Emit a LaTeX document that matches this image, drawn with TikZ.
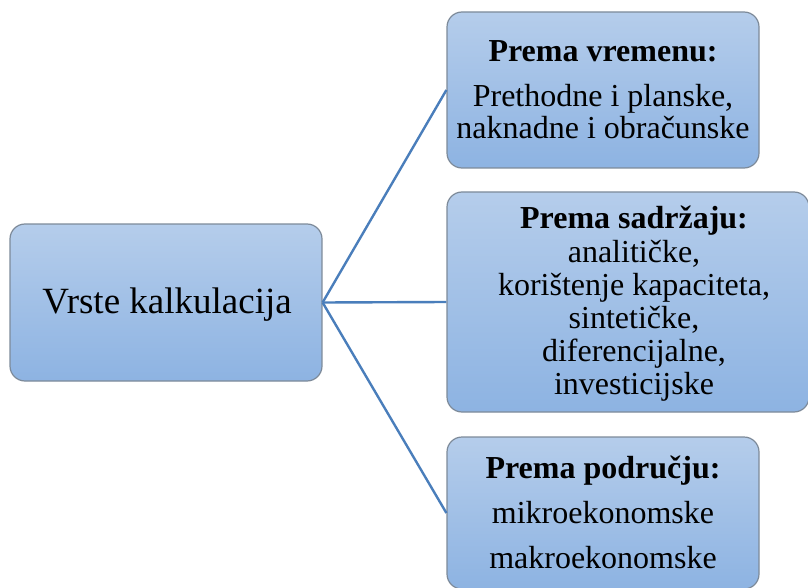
\documentclass[tikz,border=0pt]{standalone}
\usepackage{fontspec}
\setmainfont{Liberation Serif}
\definecolor{boxtop}{HTML}{B5CDEB}
\definecolor{boxbot}{HTML}{8DB3E2}
\definecolor{boxline}{HTML}{7D8A99}
\definecolor{conn}{HTML}{4A7EBB}
\begin{document}
\begin{tikzpicture}[x=1pt,y=-1pt,
  box/.style={draw=boxline, line width=1.2pt, rounded corners=15pt,
    top color=boxtop, bottom color=boxbot, inner sep=0pt},
  txt/.style={anchor=base, inner sep=0pt, font=\fontsize{32}{33}\selectfont},
  bigtxt/.style={anchor=base, inner sep=0pt, font=\fontsize{37}{40}\selectfont},
  link/.style={draw=conn, line width=2.4pt}]
\useasboundingbox (0,0) rectangle (808,588);
% boxes
\node[box, minimum width=312pt, minimum height=157pt] (root) at (166,302.5) {};
\node[box, minimum width=312pt, minimum height=156pt] (b1) at (603,90) {};
\node[box, minimum width=362pt, minimum height=220pt] (b2) at (628,302) {};
\node[box, minimum width=312pt, minimum height=152pt] (b3) at (603,513) {};
% connectors
\draw[link] (root.east) -- (b1.west);
\draw[link] (root.east) -- (b2.west);
\draw[link] (root.east) -- (b3.west);
% texts
\node[bigtxt] (r0) at (167,313) {Vrste kalkulacija};
\node[txt] (a0) at (603,62) {\bfseries Prema vremenu:};
\node[txt] (a1) at (603,107) {Prethodne i planske,};
\node[txt] (a2) at (603,139) {naknadne i obračunske};
\node[txt] (m0) at (634,229) {\bfseries Prema sadržaju:};
\node[txt] (m1) at (634,262) {analitičke,};
\node[txt] (m2) at (634,295) {korištenje kapaciteta,};
\node[txt] (m3) at (634,328) {sintetičke,};
\node[txt] (m4) at (634,361) {diferencijalne,};
\node[txt] (m5) at (634,394) {investicijske};
\node[txt] (c0) at (603,478) {\bfseries Prema području:};
\node[txt] (c1) at (603,523) {mikroekonomske};
\node[txt] (c2) at (603,568) {makroekonomske};
\end{tikzpicture}
\end{document}
